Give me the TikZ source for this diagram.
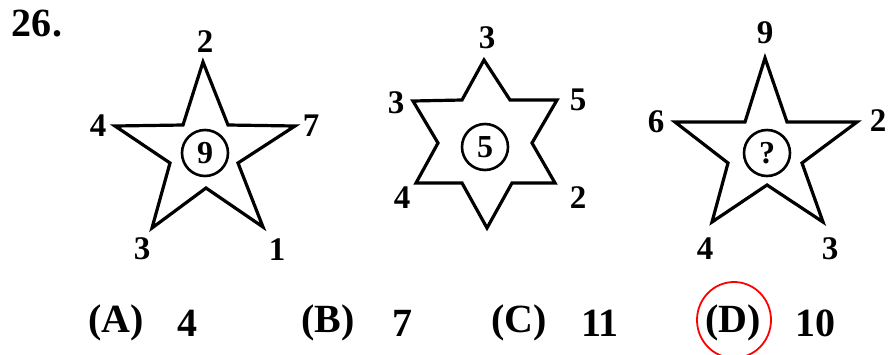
\documentclass[tikz,border=0pt]{standalone}
\usepackage{fontspec}
\setmainfont{Liberation Serif}
\begin{document}
\begin{tikzpicture}[x=1pt,y=-1pt,
  starline/.style={line width=3.2pt,line join=miter},
  lbl/.style={font=\fontsize{33}{34}\selectfont\bfseries,inner sep=0pt},
  mid/.style={circle,draw,line width=2.6pt,minimum size=46pt,inner sep=0pt,font=\fontsize{32}{32}\selectfont\bfseries},
  opt/.style={font=\fontsize{40}{40}\selectfont\bfseries,inner sep=0pt}]
\useasboundingbox (0,0) rectangle (888,354);
\node[font=\fontsize{40}{40}\selectfont\bfseries,inner sep=0pt] (q) at (37,24) {26.};
% star 1
\draw[starline] (203,62) -- (228,125) -- (295,126) -- (238,163) -- (263,227) -- (206,188) -- (152,228) -- (170,163) -- (115,126) -- (183,125) -- cycle;
\node[mid] (c1) at (205,153) {9};
\node[lbl] (a1) at (205,42) {2};
\node[lbl] (a2) at (98,126) {4};
\node[lbl] (a3) at (311,126) {7};
\node[lbl] (a4) at (142,249) {3};
\node[lbl] (a5) at (277,250) {1};
% star 2
\draw[starline] (484,60) -- (510,100) -- (557,100) -- (532,143) -- (555,183) -- (512,183) -- (487,228) -- (462,183) -- (416,183) -- (438,143) -- (413,101) -- (462,100) -- cycle;
\node[mid] (c2) at (485,147) {5};
\node[lbl] (b1) at (487,38) {3};
\node[lbl] (b2) at (396,103) {3};
\node[lbl] (b3) at (578,100) {5};
\node[lbl] (b4) at (402,198) {4};
\node[lbl] (b5) at (578,198) {2};
% star 3
\draw[starline] (765,58) -- (787,122) -- (857,122) -- (802,163) -- (823,222) -- (767,185) -- (712,222) -- (728,163) -- (675,122) -- (745,122) -- cycle;
\node[mid] (c3) at (767,153) {?};
\node[lbl] (d1) at (765,33) {9};
\node[lbl] (d2) at (656,122) {6};
\node[lbl] (d3) at (878,121) {2};
\node[lbl] (d4) at (705,249) {4};
\node[lbl] (d5) at (830,249) {3};
% options
\node[opt] (oA) at (116,323) {(A)};
\node[opt] (vA) at (187,323) {4};
\node[opt] (oB) at (328,323) {(B)};
\node[opt] (vB) at (402,323) {7};
\node[opt] (oC) at (519,323) {(C)};
\node[opt] (vC) at (600,323) {11};
\node[opt] (oD) at (733,323) {(D)};
\node[opt] (vD) at (815,323) {10};
\draw[red,line width=1.8pt] (oD.center) ++(1,-3) ellipse[x radius=37,y radius=38];
\end{tikzpicture}
\end{document}
